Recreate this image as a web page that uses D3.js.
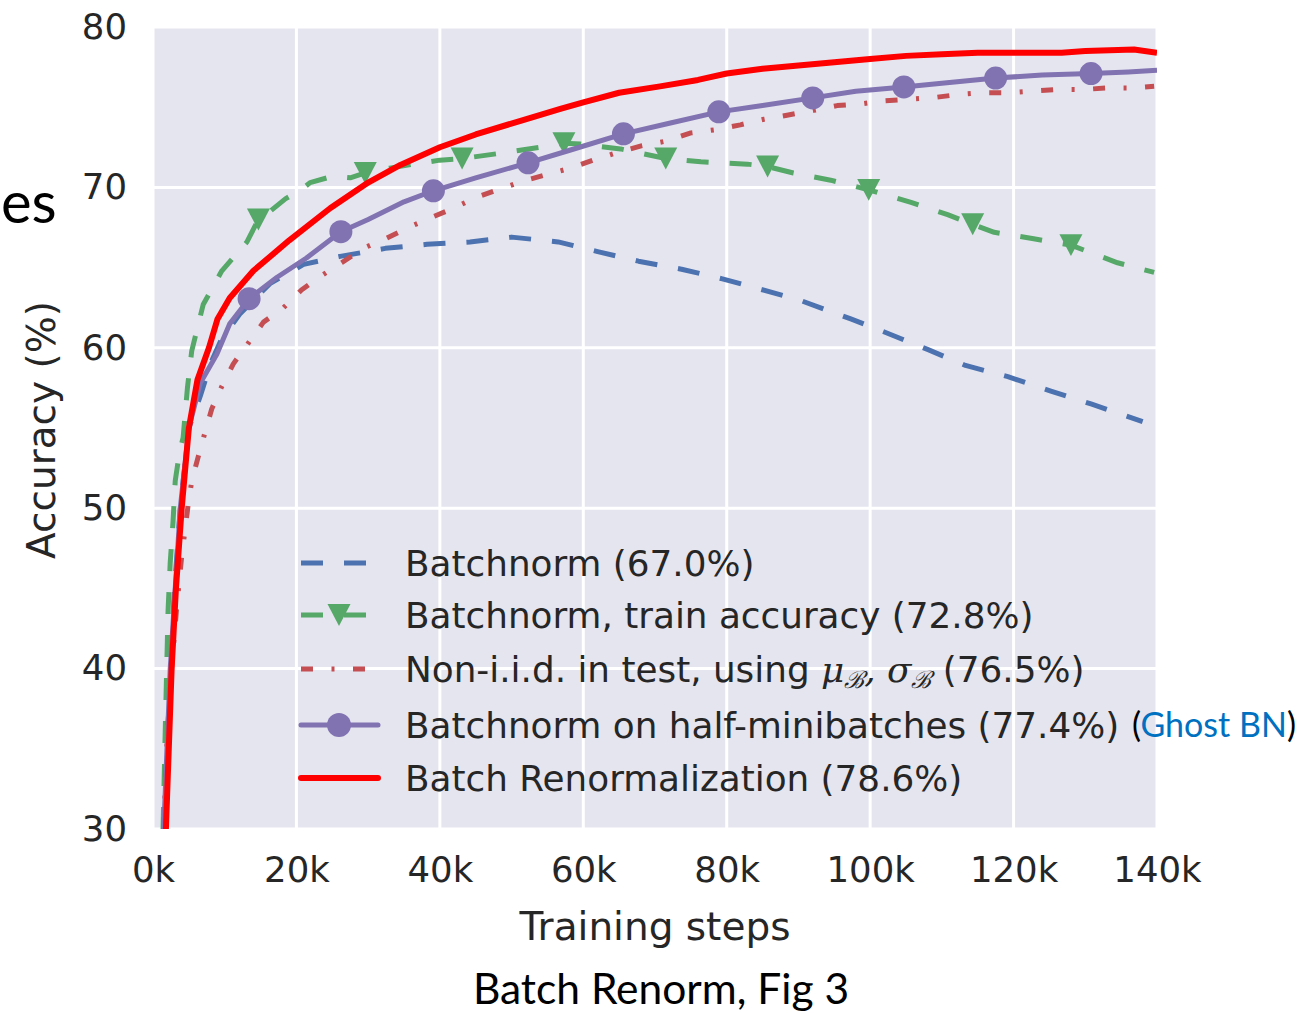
<!DOCTYPE html>
<html>
<head>
<meta charset="utf-8">
<script src="https://cdn.jsdelivr.net/npm/d3@7"></script>
<style>
  html, body { margin: 0; padding: 0; background: #fff; }
  svg { display: block; }
</style>
</head>
<body>
<svg id="chart" width="1302" height="1013"></svg>
<script>
// Training steps are in thousands (k); accuracy in percent.
const batchnorm = [[1.5,30],[2.0,36],[2.4,40],[3.0,45],[3.8,50],[5.0,55],[6.6,57],[8.0,59],[9.5,60.5],[12.1,62.1],[16.3,64.0],[21.0,65.2],[26.1,65.7],[32.4,66.2],[38.2,66.45],[44.2,66.6],[50.0,66.9],[56.5,66.6],[62.0,66.0],[67.7,65.4],[73.7,64.9],[79.4,64.3],[84.3,63.7],[90.0,63.0],[97.3,61.8],[101.9,61.0],[108.0,59.9],[113.3,58.9],[119.2,58.2],[125.2,57.3],[130.8,56.5],[138.0,55.4]];

const trainAcc = [[1.4,30],[1.7,36],[2.1,43.6],[2.4,46.6],[2.8,49.2],[3.1,51.7],[3.7,53.5],[4.2,54.4],[4.8,57.5],[5.4,59.8],[7.0,62.7],[9.6,64.8],[13.1,66.6],[14.7,68.0],[16.3,68.5],[18.5,69.3],[20.5,69.8],[21.9,70.3],[25.1,70.7],[27.5,70.6],[29.6,70.9],[33.0,71.2],[36.3,71.45],[40.0,71.7],[43.1,71.8],[48.0,72.1],[54.0,72.5],[57.3,72.75],[59.6,72.7],[65.2,72.4],[71.5,71.8],[76.4,71.6],[82.9,71.45],[85.7,71.3],[89.3,70.9],[94.5,70.45],[99.8,69.85],[105.7,69.06],[110.8,68.3],[114.3,67.7],[117.3,67.2],[122.8,66.8],[128.0,66.4],[134.5,65.3],[139.6,64.7]];
const trainAccMarkers = [[14.7,68.0],[29.6,70.9],[43.1,71.8],[57.3,72.75],[71.5,71.8],[85.7,71.3],[99.8,69.85],[114.3,67.7],[128.0,66.4]];

const nonIid = [[1.5,30],[2.0,36],[2.6,40],[3.3,43.8],[4.0,47.0],[4.9,50.2],[5.4,51.7],[6.3,53.2],[7.3,54.8],[8.2,56.2],[9.6,57.6],[11.2,59.0],[13.3,60.3],[15.4,61.6],[18.2,62.5],[20.7,63.6],[23.5,64.5],[26.3,65.3],[29.3,66.2],[32.4,66.8],[35.6,67.5],[38.7,68.1],[41.9,68.7],[45.2,69.4],[48.4,69.9],[51.6,70.4],[58.2,71.2],[61.4,71.7],[64.9,72.2],[68.2,72.6],[71.7,72.9],[75.0,73.4],[78.5,73.6],[81.9,73.9],[85.2,74.25],[88.4,74.5],[92.1,74.8],[95.4,75.1],[98.7,75.2],[101.9,75.4],[105.4,75.5],[108.9,75.6],[112.4,75.8],[115.8,75.9],[119.3,75.9],[122.6,76.0],[126.0,76.1],[129.6,76.1],[133.1,76.2],[136.6,76.2],[139.6,76.3]];

const ghostBN = [[1.5,30],[2.4,40],[3.8,50],[5.0,55],[6.6,57.8],[8.9,59.6],[10.7,61.5],[13.4,63.06],[17.3,64.4],[21.4,65.6],[26.2,67.24],[30.0,68.0],[35.0,69.1],[39.1,69.79],[45.0,70.6],[52.3,71.53],[58.0,72.3],[65.6,73.34],[72.0,74.0],[78.9,74.71],[85.0,75.1],[92.0,75.58],[98.0,76.0],[104.7,76.26],[110.0,76.5],[117.5,76.82],[124.0,77.0],[130.8,77.1],[136.0,77.2],[140.0,77.3]];
const ghostBNMarkers = [[13.4,63.06],[26.2,67.24],[39.1,69.79],[52.3,71.53],[65.6,73.34],[78.9,74.71],[92.0,75.58],[104.7,76.26],[117.5,76.82],[130.8,77.1]];

const renorm = [[1.8,30],[2.2,35],[2.6,40],[3.2,45],[4.0,50],[5.0,55],[6.2,58],[7.8,60],[9.0,61.8],[10.7,63.1],[14.0,64.8],[19.0,66.7],[24.7,68.7],[30.0,70.3],[34.5,71.4],[40.0,72.5],[45.0,73.3],[51.6,74.2],[56.8,74.9],[60.0,75.3],[65.0,75.9],[70.7,76.3],[76.0,76.7],[80.0,77.1],[85.0,77.4],[90.0,77.6],[95.0,77.8],[100.0,78.0],[105.0,78.2],[110.0,78.3],[115.0,78.4],[120.0,78.4],[126.7,78.4],[130.0,78.5],[136.8,78.6],[140.0,78.4]];

const xTicks = [0, 20, 40, 60, 80, 100, 120, 140];
const yTicks = [30, 40, 50, 60, 70, 80];

const svg = d3.select("#chart");
const plot = { left: 153, right: 1157, top: 27, bottom: 829 };

const x = d3.scaleLinear().domain([0, 140]).range([plot.left, plot.right]);
const y = d3.scaleLinear().domain([30, 80]).range([plot.bottom, plot.top]);

const textColor = "#262626";
const tickFont = "'DejaVu Sans', sans-serif";

// Background panel
svg.append("rect")
  .attr("x", plot.left).attr("y", plot.top)
  .attr("width", plot.right - plot.left).attr("height", plot.bottom - plot.top)
  .attr("fill", "#E5E5EF");

// Grid
const grid = svg.append("g");
grid.selectAll("line.v").data(xTicks).join("line")
  .attr("x1", d => x(d)).attr("x2", d => x(d))
  .attr("y1", plot.top).attr("y2", plot.bottom)
  .attr("stroke", "#fff").attr("stroke-width", 3);
grid.selectAll("line.h").data(yTicks).join("line")
  .attr("x1", plot.left).attr("x2", plot.right)
  .attr("y1", d => y(d)).attr("y2", d => y(d))
  .attr("stroke", "#fff").attr("stroke-width", 3);

// Axes (labels only, no spines)
const xAxis = svg.append("g")
  .attr("transform", `translate(0,${plot.bottom})`)
  .call(d3.axisBottom(x).tickValues(xTicks).tickSize(0).tickPadding(28).tickFormat(d => d + "k"));
const yAxis = svg.append("g")
  .attr("transform", `translate(${plot.left},0)`)
  .call(d3.axisLeft(y).tickValues(yTicks).tickSize(0).tickPadding(26).tickFormat(d3.format("d")));
[xAxis, yAxis].forEach(a => {
  a.select(".domain").remove();
  a.selectAll("text").attr("font-family", tickFont).attr("font-size", 35.5).attr("fill", textColor);
});

// Axis titles
svg.append("text")
  .attr("x", x(70)).attr("y", 940)
  .attr("text-anchor", "middle")
  .attr("font-family", tickFont).attr("font-size", 39).attr("fill", textColor)
  .text("Training steps");
svg.append("text")
  .attr("transform", "translate(55,430) rotate(-90)")
  .attr("text-anchor", "middle")
  .attr("font-family", tickFont).attr("font-size", 39).attr("fill", textColor)
  .text("Accuracy (%)");

// Curves
svg.append("defs").append("clipPath").attr("id", "plotClip")
  .append("rect")
  .attr("x", plot.left).attr("y", plot.top)
  .attr("width", plot.right - plot.left).attr("height", plot.bottom - plot.top);

const line = d3.line().x(d => x(d[0])).y(d => y(d[1]));
const curves = svg.append("g").attr("clip-path", "url(#plotClip)");

const series = [
  { data: batchnorm, color: "#4C72B0", width: 5, dash: "22,21" },
  { data: trainAcc, color: "#55A868", width: 5, dash: "22,21" },
  { data: nonIid, color: "#C44E52", width: 5, dash: "12,18.5,3,18.5" },
  { data: ghostBN, color: "#8172B2", width: 5, dash: null },
  { data: renorm, color: "#FF0000", width: 6, dash: null }
];

function tri(cx, cy, s) {
  return `M${cx - s},${cy - s * 0.95}L${cx + s},${cy - s * 0.95}L${cx},${cy + s * 0.95}Z`;
}

series.forEach((s, i) => {
  curves.append("path")
    .datum(s.data)
    .attr("d", line)
    .attr("fill", "none")
    .attr("stroke", s.color)
    .attr("stroke-width", s.width)
    .attr("stroke-dasharray", s.dash)
    .attr("stroke-linejoin", "round")
    .attr("stroke-linecap", "butt");
  if (i === 1) {
    curves.selectAll("path.tri").data(trainAccMarkers).join("path")
      .attr("class", "tri")
      .attr("d", d => tri(x(d[0]), y(d[1]), 11.5))
      .attr("fill", s.color);
  }
  if (i === 3) {
    curves.selectAll("circle.dot").data(ghostBNMarkers).join("circle")
      .attr("class", "dot")
      .attr("cx", d => x(d[0])).attr("cy", d => y(d[1]))
      .attr("r", 11.5)
      .attr("fill", s.color);
  }
});

// Legend
const legendRows = [
  { y: 563, color: "#4C72B0", width: 5, dash: "22,21", label: "Batchnorm (67.0%)" },
  { y: 615, color: "#55A868", width: 5, dash: "22,21", marker: "tri", label: "Batchnorm, train accuracy (72.8%)" },
  { y: 669, color: "#C44E52", width: 5, dash: "12,18.5,3,18.5", label: "math" },
  { y: 725, color: "#8172B2", width: 5, dash: null, marker: "circle", label: "Batchnorm on half-minibatches (77.4%)" },
  { y: 778, color: "#FF0000", width: 6, dash: null, label: "Batch Renormalization (78.6%)" }
];
const legend = svg.append("g");
legendRows.forEach(r => {
  legend.append("line")
    .attr("x1", 301).attr("x2", 378).attr("y1", r.y).attr("y2", r.y)
    .attr("stroke", r.color).attr("stroke-width", r.width)
    .attr("stroke-dasharray", r.dash)
    .attr("stroke-linecap", r.dash ? "butt" : "round");
  if (r.marker === "tri") {
    legend.append("path").attr("d", tri(339, r.y, 11.5)).attr("fill", r.color);
  }
  if (r.marker === "circle") {
    legend.append("circle").attr("cx", 339).attr("cy", r.y).attr("r", 12).attr("fill", r.color);
  }
  const t = legend.append("text")
    .attr("x", 405).attr("y", r.y + 12.5)
    .attr("font-family", tickFont).attr("font-size", 35.8).attr("fill", textColor);
  if (r.label === "math") {
    t.append("tspan").text("Non-i.i.d. in test, using ");
    t.append("tspan").attr("font-family", "'DejaVu Serif', serif").attr("font-style", "italic").text("μ");
    t.append("tspan").attr("font-family", "'DejaVu Serif', serif").attr("font-style", "italic")
      .attr("font-size", 24).attr("dy", 6).text("ℬ");
    t.append("tspan").attr("dy", -6).attr("font-family", "'DejaVu Serif', serif").attr("font-style", "italic").text(", σ");
    t.append("tspan").attr("font-family", "'DejaVu Serif', serif").attr("font-style", "italic")
      .attr("font-size", 24).attr("dy", 6).text("ℬ");
    t.append("tspan").attr("dy", -6).text(" (76.5%)");
  } else {
    t.text(r.label);
  }
});

// Annotation next to the Ghost BN entry
const ghost = svg.append("text")
  .attr("x", 1132).attr("y", 737)
  .attr("font-family", "Lato, 'Open Sans', sans-serif").attr("font-size", 34).attr("fill", "#000");
ghost.append("tspan").text("(");
ghost.append("tspan").attr("fill", "#0070C0").text("Ghost BN");
ghost.append("tspan").text(")");

// Caption and slide fragment
svg.append("text")
  .attr("x", 661).attr("y", 1004)
  .attr("text-anchor", "middle")
  .attr("font-family", "Lato, 'Open Sans', sans-serif").attr("font-size", 42.5).attr("fill", "#000")
  .text("Batch Renorm, Fig 3");
svg.append("text")
  .attr("x", 1).attr("y", 223)
  .attr("font-family", "Lato, 'Open Sans', sans-serif").attr("font-size", 58).attr("fill", "#000")
  .text("es");
</script>
</body>
</html>
